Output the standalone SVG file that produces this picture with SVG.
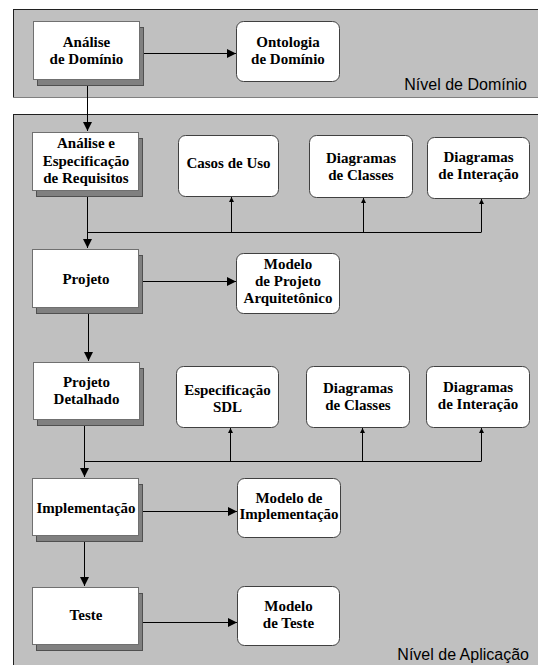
<svg xmlns="http://www.w3.org/2000/svg" width="538" height="665" viewBox="0 0 538 665">
<style>
.panel{fill:#C0C0C0;stroke:none}
.edge{stroke:#202020;stroke-width:1}
.edge2{stroke:#808080;stroke-width:1}
.sh{fill:#808080;stroke:#505050;stroke-width:1}
.box{fill:#FFFFFF;stroke:#707070;stroke-width:1}
.rbox{fill:#FFFFFF;stroke:#404040;stroke-width:1}
.t{font-size:15px;font-weight:bold;fill:#000;text-anchor:middle}
.lvl{font-family:"Liberation Sans",Arial,sans-serif;font-size:16px;fill:#000;text-anchor:end}
.c{fill:none;stroke:#000;stroke-width:1}
</style>
<defs>
<marker id="ah" viewBox="0 0 10 10" refX="10" refY="5" markerWidth="9" markerHeight="9" markerUnits="userSpaceOnUse" orient="auto">
<path d="M0,0 L10,5 L0,10 Z" fill="#000"/>
</marker>
<marker id="as" viewBox="0 0 10 10" refX="10" refY="5" markerWidth="5" markerHeight="5" markerUnits="userSpaceOnUse" orient="auto">
<path d="M0,0 L10,5 L0,10 Z" fill="#000"/>
</marker>
</defs>

<g id="panel-dominio">
<rect class="panel" x="13" y="9" width="525" height="88"/>
<line class="edge" x1="13" y1="9.5" x2="538" y2="9.5"/>
<line class="edge" x1="13.5" y1="9" x2="13.5" y2="97"/>
<line class="edge2" x1="13" y1="97.5" x2="538" y2="97.5"/>
<text class="lvl" x="527" y="90">Nível de Domínio</text>
</g>
<g id="panel-aplicacao">
<rect class="panel" x="13" y="114" width="525" height="551"/>
<line class="edge" x1="13" y1="114.5" x2="538" y2="114.5"/>
<line class="edge" x1="13.5" y1="114" x2="13.5" y2="665"/>
<text class="lvl" x="529" y="660">Nível de Aplicação</text>
</g>

<g id="connectors">
<line class="c" x1="144" y1="53.5" x2="236" y2="53.5" marker-end="url(#ah)"/>
<line class="c" x1="87.5" y1="86" x2="87.5" y2="131" marker-end="url(#ah)"/>
<line class="c" x1="87.5" y1="197" x2="87.5" y2="248" marker-end="url(#ah)"/>
<polyline class="c" points="87.5,232.5 481.5,232.5"/>
<line class="c" x1="231.5" y1="232" x2="231.5" y2="197" marker-end="url(#as)"/>
<line class="c" x1="363.5" y1="232" x2="363.5" y2="198" marker-end="url(#as)"/>
<line class="c" x1="481.5" y1="232" x2="481.5" y2="199" marker-end="url(#as)"/>
<line class="c" x1="143" y1="281.5" x2="236" y2="281.5" marker-end="url(#ah)"/>
<line class="c" x1="88.5" y1="314" x2="88.5" y2="361" marker-end="url(#ah)"/>
<line class="c" x1="84.5" y1="426" x2="84.5" y2="477" marker-end="url(#ah)"/>
<polyline class="c" points="84.5,461.5 481.5,461.5"/>
<line class="c" x1="230.5" y1="461" x2="230.5" y2="428" marker-end="url(#as)"/>
<line class="c" x1="362.5" y1="461" x2="362.5" y2="428" marker-end="url(#as)"/>
<line class="c" x1="481.5" y1="461" x2="481.5" y2="428" marker-end="url(#as)"/>
<line class="c" x1="143" y1="511.5" x2="237" y2="511.5" marker-end="url(#ah)"/>
<line class="c" x1="84.5" y1="542" x2="84.5" y2="586" marker-end="url(#ah)"/>
<line class="c" x1="143" y1="622.5" x2="237" y2="622.5" marker-end="url(#ah)"/>
</g>

<g font-family="'Liberation Serif', 'DejaVu Serif', serif">
<g id="analise-dominio">
<rect class="sh" x="37.5" y="27.5" width="106" height="58"/>
<rect class="box" x="33.5" y="21.5" width="106" height="58"/>
<text class="t" x="86.5" y="47">Análise</text>
<text class="t" x="86.5" y="64">de Domínio</text>
</g>
<g id="ontologia-dominio">
<rect class="rbox" x="236.5" y="21.5" width="103" height="60" rx="7"/>
<text class="t" x="288" y="47">Ontologia</text>
<text class="t" x="288" y="64">de Domínio</text>
</g>

<g id="analise-especificacao">
<rect class="sh" x="36.5" y="138.5" width="106" height="58"/>
<rect class="box" x="32.5" y="132.5" width="106" height="58"/>
<text class="t" x="86" y="148">Análise e</text>
<text class="t" x="86" y="165.5">Especificação</text>
<text class="t" x="86" y="183">de Requisitos</text>
</g>
<g id="casos-de-uso">
<rect class="rbox" x="178.5" y="135.5" width="100" height="61" rx="7"/>
<text class="t" x="228.5" y="168">Casos de Uso</text>
</g>
<g id="diagramas-classes-1">
<rect class="rbox" x="309.5" y="135.5" width="103" height="62" rx="7"/>
<text class="t" x="361" y="163">Diagramas</text>
<text class="t" x="361" y="180">de Classes</text>
</g>
<g id="diagramas-interacao-1">
<rect class="rbox" x="427.5" y="137.5" width="102" height="61" rx="7"/>
<text class="t" x="478.5" y="162">Diagramas</text>
<text class="t" x="478.5" y="179">de Interação</text>
</g>

<g id="projeto">
<rect class="sh" x="36.5" y="255.5" width="106" height="58"/>
<rect class="box" x="32.5" y="249.5" width="106" height="58"/>
<text class="t" x="86" y="284">Projeto</text>
</g>
<g id="modelo-projeto-arquitetonico">
<rect class="rbox" x="236.5" y="253.5" width="103" height="60" rx="7"/>
<text class="t" x="288" y="269">Modelo</text>
<text class="t" x="288" y="286">de Projeto</text>
<text class="t" x="288" y="303">Arquitetônico</text>
</g>

<g id="projeto-detalhado">
<rect class="sh" x="37.5" y="368.5" width="106" height="57"/>
<rect class="box" x="33.5" y="362.5" width="106" height="57"/>
<text class="t" x="86.5" y="387">Projeto</text>
<text class="t" x="86.5" y="404">Detalhado</text>
</g>
<g id="especificacao-sdl">
<rect class="rbox" x="176.5" y="366.5" width="102" height="61" rx="7"/>
<text class="t" x="227.5" y="395">Especificação</text>
<text class="t" x="227.5" y="412">SDL</text>
</g>
<g id="diagramas-classes-2">
<rect class="rbox" x="306.5" y="366.5" width="103" height="61" rx="7"/>
<text class="t" x="358" y="393">Diagramas</text>
<text class="t" x="358" y="410">de Classes</text>
</g>
<g id="diagramas-interacao-2">
<rect class="rbox" x="426.5" y="366.5" width="103" height="61" rx="7"/>
<text class="t" x="478" y="392">Diagramas</text>
<text class="t" x="478" y="409">de Interação</text>
</g>

<g id="implementacao">
<rect class="sh" x="36.5" y="484.5" width="106" height="57"/>
<rect class="box" x="32.5" y="478.5" width="106" height="57"/>
<text class="t" x="86" y="513">Implementação</text>
</g>
<g id="modelo-implementacao">
<rect class="rbox" x="237.5" y="478.5" width="103" height="59" rx="7"/>
<text class="t" x="289" y="503">Modelo de</text>
<text class="t" x="289" y="519">Implementação</text>
</g>

<g id="teste">
<rect class="sh" x="36.5" y="593.5" width="106" height="57"/>
<rect class="box" x="32.5" y="587.5" width="106" height="57"/>
<text class="t" x="86" y="620">Teste</text>
</g>
<g id="modelo-teste">
<rect class="rbox" x="237.5" y="586.5" width="102" height="59" rx="7"/>
<text class="t" x="288.5" y="611">Modelo</text>
<text class="t" x="288.5" y="628">de Teste</text>
</g>
</g>
</svg>
